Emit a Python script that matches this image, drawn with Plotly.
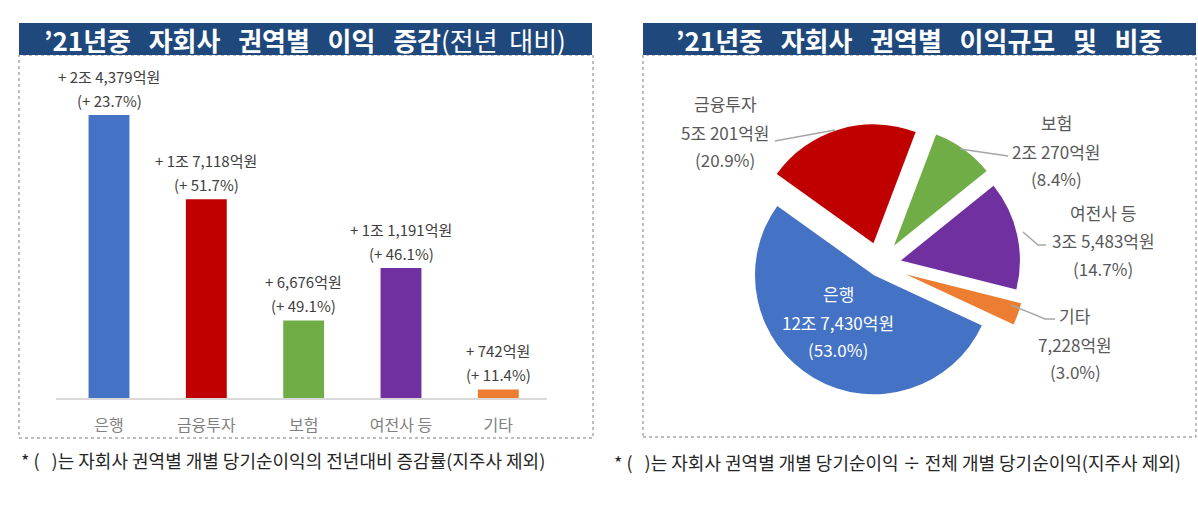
import plotly.graph_objects as go

# ---------------- data ----------------
bar_categories = ["은행", "금융투자", "보험", "여전사 등", "기타"]
bar_increase = [24379, 17118, 6676, 11191, 742]          # 억원 (전년대비 증가액)
bar_growth_pct = [23.7, 51.7, 49.1, 46.1, 11.4]          # %
bar_colors = ["#4472C4", "#C00000", "#70AD47", "#7030A0", "#ED7D31"]

pie_labels = ["은행", "금융투자", "보험", "여전사 등", "기타"]
pie_values = [127430, 50201, 20270, 35483, 7228]          # 억원
pie_share_pct = [53.0, 20.9, 8.4, 14.7, 3.0]              # %
pie_colors = ["#4472C4", "#C00000", "#70AD47", "#7030A0", "#ED7D31"]

left_title = "’21년중 자회사 권역별 이익 증감"
left_title_sub = "(전년 대비)"
right_title = "’21년중 자회사 권역별 이익규모 및 비중"
left_note = "* (   )는 자회사 권역별 개별 당기순이익의 전년대비 증감률(지주사 제외)"
right_note = "* (   )는 자회사 권역별 개별 당기순이익 ÷ 전체 개별 당기순이익(지주사 제외)"

# ---------------- layout helpers ----------------
W, H = 1198, 511
FONT = "Noto Sans CJK KR"
NAVY = "#1F497D"


def X(px):
    return px / W


def Y(py):
    return 1 - py / H


def won(v):
    jo, eok = divmod(v, 10000)
    return (f"{jo}조 " if jo else "") + f"{eok:,}억원"


def wide(s, n=3):
    return s.replace(" ", "\u00a0" * n)


def nb(s):
    return s.replace("(   )", "(\u00a0\u00a0\u00a0)")


fig = go.Figure()

# ---------------- bar chart ----------------
fig.add_trace(go.Bar(
    x=bar_categories, y=bar_increase,
    marker=dict(color=bar_colors, line=dict(width=0)),
    hoverinfo="skip", xaxis="x", yaxis="y",
))

# ---------------- pie chart ----------------
pie_pull = [0.10, 0.19, 0.20, 0.18, 0.23]
cx, cy, r = 880, 265, 119
half = r * (1 + max(pie_pull))
fig.add_trace(go.Pie(
    labels=pie_labels, values=pie_values,
    marker=dict(colors=pie_colors, line=dict(width=0)),
    sort=False, direction="clockwise", rotation=115,
    pull=pie_pull, textinfo="none", hoverinfo="skip", showlegend=False,
    domain=dict(x=[X(cx - half), X(cx + half)], y=[Y(cy + half), Y(cy - half)]),
))

annotations = []
# bar value labels (two lines)
for cat, v, p in zip(bar_categories, bar_increase, bar_growth_pct):
    annotations.append(dict(x=cat, y=v, xref="x", yref="y", yshift=39,
                            text="+ " + won(v), showarrow=False, yanchor="middle",
                            font=dict(size=15, color="#404040")))
    annotations.append(dict(x=cat, y=v, xref="x", yref="y", yshift=15,
                            text=f"(+ {p}%)", showarrow=False, yanchor="middle",
                            font=dict(size=15, color="#404040")))

# pie labels
label_anchor_px = [(838, 293), (725, 103), (1056, 122), (1103, 212), (1075, 315)]
line_offsets = [0, 29, 56]
for i, (name, v, p) in enumerate(zip(pie_labels, pie_values, pie_share_pct)):
    ax, ay = label_anchor_px[i]
    color = "white" if i == 0 else "#595959"
    for off, t in zip(line_offsets, [name, won(v), f"({p}%)"]):
        annotations.append(dict(x=X(ax), y=Y(ay + off), xref="paper", yref="paper",
                                text=t, showarrow=False, xanchor="center", yanchor="middle",
                                font=dict(size=17, color=color)))

# titles
annotations.append(dict(x=X(305), y=Y(39), xref="paper", yref="paper", showarrow=False,
                        text="<b>" + wide(left_title) + "</b>" + wide(left_title_sub, 2),
                        font=dict(size=26, color="white"), xanchor="center", yanchor="middle"))
annotations.append(dict(x=X(919), y=Y(39), xref="paper", yref="paper", showarrow=False,
                        text="<b>" + wide(right_title) + "</b>",
                        font=dict(size=26, color="white"), xanchor="center", yanchor="middle"))
# footnotes
annotations.append(dict(x=X(19), y=Y(460), xref="paper", yref="paper", showarrow=False,
                        text=nb(left_note), font=dict(size=18, color="#262626"),
                        xanchor="left", yanchor="middle"))
annotations.append(dict(x=X(612), y=Y(462), xref="paper", yref="paper", showarrow=False,
                        text=nb(right_note), font=dict(size=18, color="#262626"),
                        xanchor="left", yanchor="middle"))


def path(points):
    return "M " + " L ".join(f"{X(a):.5f},{Y(b):.5f}" for a, b in points)


leaders = [
    [(775, 141), (835, 130)],
    [(960, 149), (1008, 156)],
    [(1023, 232), (1038, 245), (1046, 245)],
    [(1011, 305), (1045, 319), (1055, 319)],
]

shapes = [
    dict(type="rect", xref="paper", yref="paper", x0=X(19), x1=X(593), y0=Y(438), y1=Y(55),
         line=dict(color="#7F7F7F", width=1, dash="dot"), layer="below"),
    dict(type="rect", xref="paper", yref="paper", x0=X(643), x1=X(1196), y0=Y(437), y1=Y(55),
         line=dict(color="#7F7F7F", width=1, dash="dot"), layer="below"),
    dict(type="rect", xref="paper", yref="paper", x0=X(19), x1=X(592), y0=Y(55), y1=Y(23),
         line=dict(width=0), fillcolor=NAVY, layer="below"),
    dict(type="rect", xref="paper", yref="paper", x0=X(643), x1=X(1196), y0=Y(55), y1=Y(23),
         line=dict(width=0), fillcolor=NAVY, layer="below"),
]
for pts in leaders:
    shapes.append(dict(type="path", xref="paper", yref="paper", path=path(pts),
                       line=dict(color="#A6A6A6", width=1.5)))

fig.update_layout(
    width=W, height=H,
    margin=dict(l=0, r=0, t=0, b=0),
    paper_bgcolor="white", plot_bgcolor="white",
    font=dict(family=FONT, color="#404040"),
    showlegend=False,
    bargap=0.58,
    xaxis=dict(domain=[X(56), X(547)], type="category", showline=True,
               linecolor="#D9D9D9", linewidth=2, showgrid=False, zeroline=False,
               ticks="outside", ticklen=12, tickcolor="rgba(0,0,0,0)",
               tickfont=dict(size=16, color="#7F7F7F"), fixedrange=True),
    yaxis=dict(domain=[Y(398), Y(115)], range=[0, bar_increase[0]], visible=False,
               fixedrange=True),
    annotations=annotations,
    shapes=shapes,
)

fig.write_html("out.html", config={"displayModeBar": False},
               post_script="document.body.style.margin='0px';")
